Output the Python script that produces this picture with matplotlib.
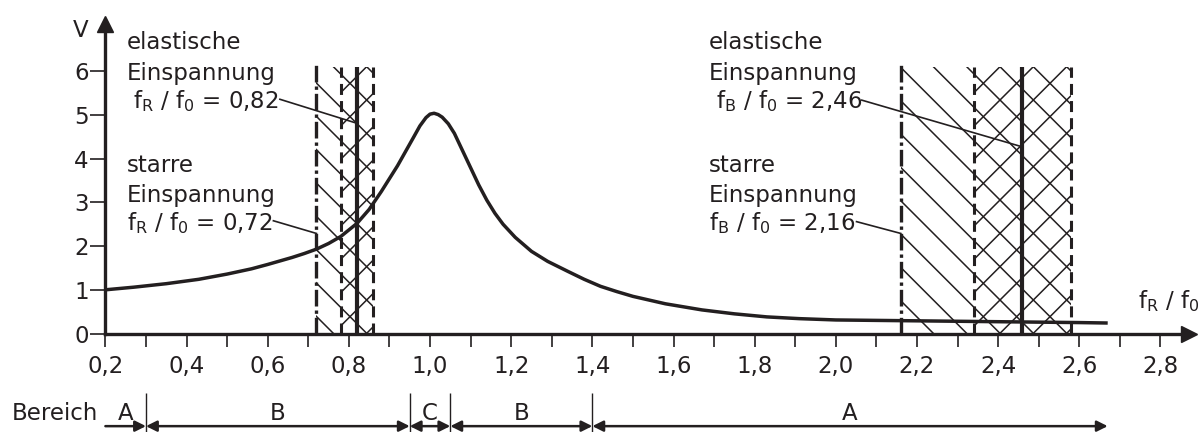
import matplotlib

matplotlib.use("Agg")
import matplotlib.pyplot as plt

plt.rcParams["font.family"] = "DejaVu Sans"
plt.rcParams["mathtext.fontset"] = "custom"
plt.rcParams["mathtext.rm"] = "DejaVu Sans"
plt.rcParams["mathtext.it"] = "DejaVu Sans"
plt.rcParams["hatch.linewidth"] = 1.1

INK = "#231f20"
FS = 16.5

# resonance curve V over f/f0
freq = [0.20, 0.27, 0.35, 0.43, 0.50, 0.56, 0.60, 0.66, 0.69, 0.72, 0.75,
        0.78, 0.82, 0.85, 0.88, 0.92, 0.96, 0.975, 0.99, 1.00, 1.01, 1.02,
        1.03, 1.045, 1.06, 1.09, 1.12, 1.14, 1.16, 1.18, 1.21, 1.25, 1.29,
        1.34, 1.38, 1.42, 1.46, 1.50, 1.58, 1.67, 1.75, 1.83, 1.91, 2.00,
        2.10, 2.20, 2.30, 2.40, 2.50, 2.60, 2.67]
gain = [1.00, 1.06, 1.14, 1.24, 1.36, 1.48, 1.58, 1.74, 1.83, 1.93, 2.06,
        2.22, 2.52, 2.84, 3.25, 3.84, 4.50, 4.75, 4.94, 5.02, 5.04, 5.01,
        4.95, 4.80, 4.58, 3.99, 3.40, 3.05, 2.75, 2.50, 2.20, 1.88, 1.65,
        1.42, 1.24, 1.08, 0.96, 0.85, 0.68, 0.54, 0.45, 0.38, 0.34, 0.31,
        0.30, 0.29, 0.28, 0.27, 0.26, 0.25, 0.24]

# clamping ranges: rigid value, elastic value, elastic band
rigid = [0.72, 2.16]
elastic = [0.82, 2.46]
band_lo = [0.78, 2.34]
band_hi = [0.86, 2.58]
sym = ["R", "B"]
rigid_txt = ["0,72", "2,16"]
elastic_txt = ["0,82", "2,46"]

# ranges along the bottom
bereich_edges = [0.2, 0.3, 0.95, 1.05, 1.4, 2.67]
bereich_labels = ["A", "B", "C", "B", "A"]

xt_major = [0.2, 0.4, 0.6, 0.8, 1.0, 1.2, 1.4, 1.6, 1.8, 2.0, 2.2, 2.4, 2.6, 2.8]
xt_minor = [0.3, 0.5, 0.7, 0.9, 1.1, 1.3, 1.5, 1.7, 1.9, 2.1, 2.3, 2.5, 2.7]
xt_labels = ["0,2", "0,4", "0,6", "0,8", "1,0", "1,2", "1,4", "1,6", "1,8",
             "2,0", "2,2", "2,4", "2,6", "2,8"]
yt = [0, 1, 2, 3, 4, 5, 6]

fig = plt.figure(figsize=(11.98, 4.32), dpi=100)
ax = fig.add_axes([0.08798, 0.2280, 0.9049, 0.7164])
ax.set_xlim(0.2, 2.8715)
ax.set_ylim(0, 7.082)

for s in ["top", "right"]:
    ax.spines[s].set_visible(False)
for s in ["left", "bottom"]:
    ax.spines[s].set_linewidth(2.4)
    ax.spines[s].set_color(INK)
    ax.spines[s].set_zorder(5)

ax.set_xticks(xt_major)
ax.set_xticklabels(xt_labels)
ax.set_xticks(xt_minor, minor=True)
ax.set_yticks(yt)
ax.set_yticklabels([str(v) for v in yt])
ax.tick_params(axis="x", which="both", direction="out", length=9.5, width=1.2,
               color=INK, labelsize=FS, labelcolor=INK, pad=6)
ax.tick_params(axis="y", direction="out", length=11, width=1.2, color=INK,
               labelsize=FS, labelcolor=INK, pad=1)

# axis arrows
ax.plot(1, 0, ">", transform=ax.get_yaxis_transform(), clip_on=False,
        ms=12, color=INK, zorder=6)
ax.plot(0.2, 1, "^", transform=ax.get_xaxis_transform(), clip_on=False,
        ms=12, color=INK, zorder=6)

# hatched bands
top = 6.1
for i in range(2):
    ax.fill_between([rigid[i], band_hi[i]], 0, top, hatch="\\", facecolor="none",
                    edgecolor=INK, linewidth=0, zorder=1)
    ax.fill_between([band_lo[i], band_hi[i]], 0, top, hatch="/", facecolor="none",
                    edgecolor=INK, linewidth=0, zorder=1)
    ax.vlines(rigid[i], 0, 6.18, color=INK, lw=2.4,
              linestyles=[(0, (5.0, 1.2, 1.0, 1.2))], zorder=3)
    ax.vlines([band_lo[i], band_hi[i]], 0, top, color=INK, lw=2.2,
              linestyles=[(0, (3.6, 2.0))], zorder=3)
    ax.vlines(elastic[i], 0, top, color=INK, lw=3.0, zorder=3)

ax.plot(freq, gain, color=INK, lw=2.5, solid_capstyle="butt",
        solid_joinstyle="round", zorder=4)

# text blocks with leader lines
blocks = [(0.2525, 0.2688), (1.688, 1.7047)]
lead_el = [((0.630, 5.36), (0.82, 4.81)), ((2.064, 5.34), (2.46, 4.27))]
lead_ri = [((0.614, 2.58), (0.72, 2.29)), ((2.051, 2.56), (2.16, 2.29))]
for i in range(2):
    x0, x1 = blocks[i]
    ax.text(x0, 6.50, "elastische", fontsize=FS, color=INK)
    ax.text(x0, 5.80, "Einspannung", fontsize=FS, color=INK)
    ax.text(x1, 5.15, "f$_\\mathregular{%s}$ / f$_\\mathregular{0}$ = %s"
            % (sym[i], elastic_txt[i]), fontsize=FS, color=INK)
    ax.text(x0, 3.70, "starre", fontsize=FS, color=INK)
    ax.text(x0, 3.02, "Einspannung", fontsize=FS, color=INK)
    ax.text(x0, 2.37, "f$_\\mathregular{%s}$ / f$_\\mathregular{0}$ = %s"
            % (sym[i], rigid_txt[i]), fontsize=FS, color=INK)
    for (a, b) in (lead_el[i], lead_ri[i]):
        ax.plot([a[0], b[0]], [a[1], b[1]], color=INK, lw=1.2, zorder=4)

ax.text(0.140, 6.79, "V", fontsize=FS, color=INK, ha="center")
ax.text(2.745, 0.58, "f$_\\mathregular{R}$ / f$_\\mathregular{0}$",
        fontsize=FS, color=INK)

# Bereich row
y_lab, y_arr = -1.98, -2.12
ax.text(-0.0314, y_lab, "Bereich", fontsize=FS, color=INK)
ax.vlines(bereich_edges[1:-1], -2.25, -1.36, color=INK, lw=1.0, clip_on=False)
for k, (a, b) in enumerate(zip(bereich_edges[:-1], bereich_edges[1:])):
    style = "-|>" if k == 0 else "<|-|>"
    ax.annotate("", xy=(b, y_arr), xytext=(a, y_arr),
                arrowprops=dict(arrowstyle=style, color=INK, lw=1.8,
                                mutation_scale=16, shrinkA=0, shrinkB=0),
                annotation_clip=False)
    ax.text((a + b) / 2, y_lab, bereich_labels[k], fontsize=FS, color=INK,
            ha="center")

fig.savefig("out.png", dpi=100)
